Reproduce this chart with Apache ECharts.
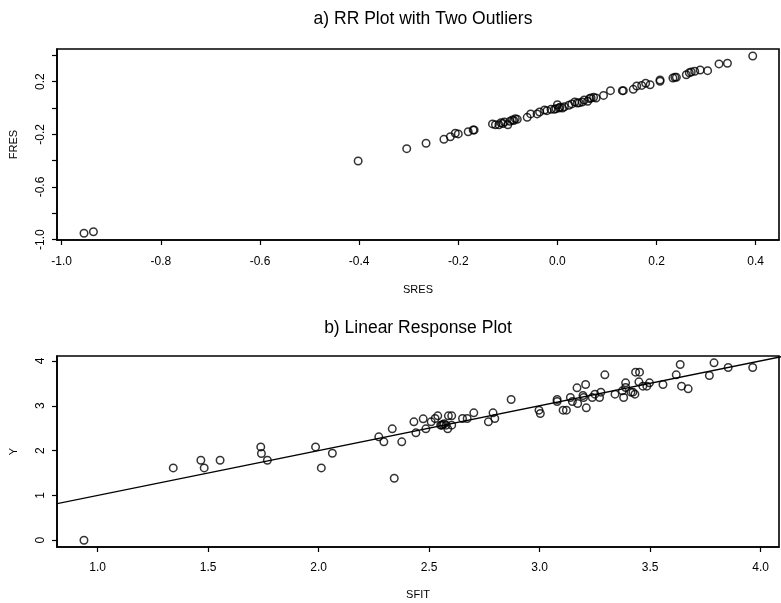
<!DOCTYPE html>
<html>
<head>
<meta charset="utf-8">
<script src="https://cdn.jsdelivr.net/npm/echarts@6/dist/echarts.min.js"></script>
<style>
html,body{margin:0;padding:0;background:#fff;}
#main{width:781px;height:603px;}
</style>
</head>
<body>
<div id="main"></div>
<script>
// ---- Panel a) RR plot data ----
var sres = [-0.955, -0.936, -0.402, -0.304, -0.265, -0.229, -0.216, -0.206, -0.200, -0.180, -0.170, -0.168,
  -0.131, -0.125, -0.118, -0.114, -0.110, -0.107, -0.100, -0.096, -0.091, -0.088, -0.085, -0.081,
  -0.061, -0.054, -0.041, -0.036, -0.026, -0.021, -0.013, -0.006, -0.003, 0.000, 0.003, 0.005, 0.010, 0.014,
  0.023, 0.029, 0.035, 0.040, 0.044, 0.050, 0.054, 0.061, 0.065, 0.068, 0.073, 0.078, 0.093, 0.107,
  0.131, 0.133, 0.153, 0.160, 0.170, 0.178, 0.187, 0.207, 0.207, 0.233, 0.237, 0.240,
  0.260, 0.266, 0.270, 0.277, 0.288, 0.303, 0.326, 0.343, 0.394];
var fres = [-0.952, -0.940, -0.403, -0.309, -0.268, -0.238, -0.218, -0.192, -0.197, -0.180, -0.167, -0.167,
  -0.121, -0.127, -0.127, -0.112, -0.118, -0.106, -0.127, -0.101, -0.091, -0.095, -0.081, -0.086,
  -0.071, -0.045, -0.045, -0.030, -0.015, -0.020, -0.010, -0.010, -0.005, 0.025, 0.000, 0.005, 0.000, 0.010,
  0.021, 0.031, 0.046, 0.038, 0.040, 0.046, 0.061, 0.051, 0.072, 0.076, 0.081, 0.076, 0.096, 0.132,
  0.132, 0.132, 0.142, 0.167, 0.172, 0.188, 0.177, 0.203, 0.213, 0.228, 0.233, 0.233,
  0.253, 0.268, 0.274, 0.279, 0.289, 0.284, 0.335, 0.340, 0.395];
var rrXTicks = [-1.0, -0.8, -0.6, -0.4, -0.2, 0.0, 0.2, 0.4];
var rrYTicks = [-1.0, -0.8, -0.6, -0.4, -0.2, 0.0, 0.2, 0.4];
var rrYLabels = [-1.0, -0.6, -0.2, 0.2];

// ---- Panel b) Linear response plot data ----
var sfit = [0.938, 1.342, 1.467, 1.482, 1.554, 1.738, 1.741, 1.768, 1.986, 2.012, 2.062, 2.272, 2.295, 2.333,
  2.342, 2.376, 2.431, 2.440, 2.473, 2.485, 2.509, 2.527, 2.539, 2.552, 2.557, 2.562, 2.568, 2.577, 2.584,
  2.587, 2.602, 2.602, 2.651, 2.672, 2.702, 2.768, 2.789, 2.797, 2.871, 2.997, 3.003, 3.079, 3.079, 3.106,
  3.121, 3.139, 3.148, 3.169, 3.172, 3.196, 3.199, 3.208, 3.211, 3.238, 3.250, 3.271, 3.277, 3.295, 3.341,
  3.374, 3.380, 3.389, 3.389, 3.413, 3.422, 3.431, 3.434, 3.452, 3.449, 3.467, 3.485, 3.497, 3.558, 3.618,
  3.636, 3.642, 3.672, 3.768, 3.789, 3.853, 3.964];
var yResp = [0.0, 1.614, 1.786, 1.614, 1.786, 2.083, 1.935, 1.786, 2.083, 1.614, 1.94, 2.307, 2.195, 2.485,
  1.384, 2.195, 2.641, 2.396, 2.708, 2.485, 2.641, 2.716, 2.775, 2.567, 2.567, 2.58, 2.600, 2.567, 2.485,
  2.775, 2.775, 2.567, 2.716, 2.716, 2.842, 2.641, 2.842, 2.716, 3.140, 2.902, 2.827, 3.140, 3.095, 2.902,
  2.902, 3.185, 3.095, 3.400, 3.051, 3.229, 3.185, 3.475, 2.954, 3.185, 3.259, 3.185, 3.304, 3.690, 3.259,
  3.333, 3.185, 3.408, 3.512, 3.304, 3.304, 3.259, 3.750, 3.750, 3.534, 3.438, 3.438, 3.512, 3.475, 3.690,
  3.921, 3.438, 3.378, 3.676, 3.958, 3.854, 3.854];
var lineX = [0.5, 4.5];   // identity line y = x
var lineY = [0.5, 4.5];
var lrXTicks = [1.0, 1.5, 2.0, 2.5, 3.0, 3.5, 4.0];
var lrYTicks = [0, 1, 2, 3, 4];

function pairs(a, b) { return a.map(function (v, i) { return [v, b[i]]; }); }

var FONT = 'Liberation Sans, Arial, Helvetica, sans-serif';
var tickStyle = { show: true, inside: false, length: 5, lineStyle: { color: '#000', width: 1.2 } };
function axisBase() {
  return {
    type: 'value',
    splitLine: { show: false },
    axisLine: { show: true, onZero: false, lineStyle: { color: '#000', width: 1.6 } },
    nameTextStyle: { color: '#000', fontFamily: FONT, fontSize: 11 },
    nameLocation: 'middle'
  };
}
var labelBase = { color: '#000', fontFamily: FONT, fontSize: 12 };

var circle = {
  type: 'scatter', symbol: 'circle', symbolSize: 7.5,
  itemStyle: { color: 'rgba(255,255,255,0)', borderColor: '#000', borderWidth: 1.5 },
  emphasis: { disabled: true }, silent: true
};

var chart = echarts.init(document.getElementById('main'), null, { renderer: 'canvas' });
chart.setOption({
  backgroundColor: '#fff',
  animation: false,
  title: [
    { text: 'a) RR Plot with Two Outliers', left: 418, top: 5, textAlign: 'center',
      textStyle: { fontFamily: FONT, fontSize: 17.5, fontWeight: 'normal', color: '#000' } },
    { text: 'b) Linear Response Plot', left: 413, top: 314, textAlign: 'center',
      textStyle: { fontFamily: FONT, fontSize: 17.5, fontWeight: 'normal', color: '#000' } }
  ],
  grid: [
    { left: 56, top: 49, width: 723, height: 191, show: true, borderColor: '#000', borderWidth: 1.6, backgroundColor: 'transparent' },
    { left: 56, top: 356, width: 723, height: 191, show: true, borderColor: '#000', borderWidth: 1.6, backgroundColor: 'transparent' }
  ],
  xAxis: [
    Object.assign(axisBase(), {
      gridIndex: 0, min: -1.0095, max: 0.447, name: 'SRES', nameGap: 44,
      axisTick: Object.assign({ customValues: rrXTicks }, tickStyle),
      axisLabel: Object.assign({ customValues: rrXTicks, margin: 16,
        formatter: function (v) { return v.toFixed(1); } }, labelBase)
    }),
    Object.assign(axisBase(), {
      gridIndex: 1, min: 0.816, max: 4.083, name: 'SFIT', nameGap: 42,
      axisTick: Object.assign({ customValues: lrXTicks }, tickStyle),
      axisLabel: Object.assign({ customValues: lrXTicks, margin: 15,
        formatter: function (v) { return v.toFixed(1); } }, labelBase)
    })
  ],
  yAxis: [
    Object.assign(axisBase(), {
      gridIndex: 0, min: -1.003, max: 0.4485, name: 'FRES', nameGap: 38,
      axisTick: Object.assign({ customValues: rrYTicks }, tickStyle),
      axisLabel: Object.assign({ customValues: rrYLabels, rotate: 90, margin: 10,
        formatter: function (v) { return v.toFixed(1); } }, labelBase)
    }),
    Object.assign(axisBase(), {
      gridIndex: 1, min: -0.15, max: 4.11, name: 'Y', nameGap: 38,
      axisTick: Object.assign({ customValues: lrYTicks }, tickStyle),
      axisLabel: Object.assign({ customValues: lrYTicks, rotate: 90, margin: 10,
        formatter: function (v) { return String(Math.round(v)); } }, labelBase)
    })
  ],
  series: [
    Object.assign({}, circle, { xAxisIndex: 0, yAxisIndex: 0, data: pairs(sres, fres) }),
    Object.assign({}, circle, { xAxisIndex: 1, yAxisIndex: 1, data: pairs(sfit, yResp) }),
    { type: 'line', xAxisIndex: 1, yAxisIndex: 1, data: pairs(lineX, lineY), symbol: 'none',
      clip: true, silent: true, lineStyle: { color: '#000', width: 1.4 } }
  ]
});
</script>
</body>
</html>
